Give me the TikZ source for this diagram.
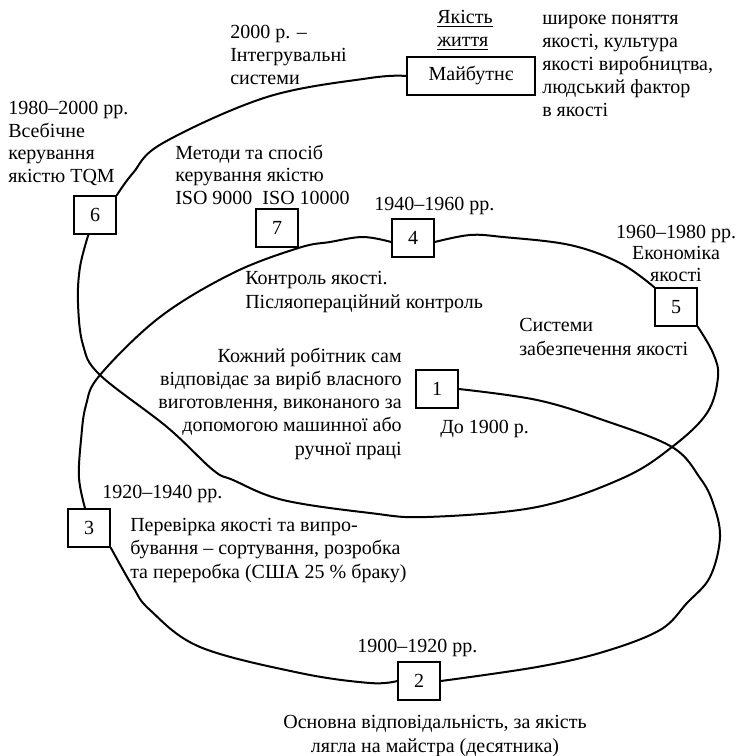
\documentclass[tikz,border=0pt]{standalone}
\usepackage{fontspec}
\setmainfont{Liberation Serif}

\begin{document}
\begin{tikzpicture}[x=0.75pt,y=0.75pt,yscale=-1,xscale=1,
  box/.style={draw, line width=1.3pt, minimum width=31.5pt, minimum height=28.5pt, inner sep=0pt, font=\fontsize{15}{17.4}\selectfont},
  txt/.style={inner sep=0pt, font=\fontsize{15}{17.4}\selectfont},
  coil/.style={line width=1.5pt, line join=round, line cap=round}]
\useasboundingbox (0,0) rectangle (737,756);

%Boxes
\draw (437,389) node (b1) [box] {1};
\draw (419,681) node (b2) [box] {2};
\draw (89,528) node (b3) [box] {3};
\draw (413,238) node (b4) [box] {4};
\draw (676,307) node (b5) [box] {5};
\draw (95,215) node (b6) [box] {6};
\draw (277,228) node (b7) [box] {7};
\draw (471,76) node (bfut) [box, minimum width=96pt, minimum height=28pt] {Майбутнє};

%Spiral 1 -> 2
\draw [coil] plot [smooth, tension=0.6] coordinates {(b1.east) (537,400) (603,420) (672,447) (700,478) (713,503) (720,537) (710,577) (687,603) (660,630) (603,652) (537,667) (b2.east)};
%Spiral 2 -> 3
\draw [coil] plot [smooth, tension=0.6] coordinates {(b2.west) (370,683) (300,673) (200,647) (150,610) (133,587) (b3.south east)};
%Spiral 3 -> 4
\draw [coil] plot [smooth, tension=0.6] coordinates {([xshift=-3pt]b3.north) (79,478) (81,440) (86,405) (100,375) (160,317) (233,273) (b7.south east) (330,242) (363,237) ([yshift=3pt]b4.west)};
%Spiral 4 -> 5
\draw [coil] plot [smooth, tension=0.6] coordinates {([yshift=3pt]b4.east) (470,235) (503,237) (570,245) (620,263) (b5.north west)};
%Spiral 5 -> 6
\draw [coil] plot [smooth, tension=0.6] coordinates {(b5.south east) (713,353) (718,377) (707,413) (672,447) (623,478) (537,507) (427,517) (370,513) (283,500) (233,480) (213,470) (167,427) (100,375) (83,345) (78,303) (80,267) ([xshift=-5pt]b6.south)};
%Spiral 6 -> future
\draw [coil] plot [smooth, tension=0.6] coordinates {(b6.north east) (133,173) (163,143) (267,97) (370,78) (bfut.west)};

% Text Node (anchor = baseline of the last line)
\draw (230,85) node (tInteg) [txt, anchor=base west, align=left] {2000 р. –\\Інтегрувальні\\системи};
% Text Node
\draw (437,47) node (tLife) [txt, anchor=base west, align=left] {\underline{Якість}\\\underline{життя}};
% Text Node
\draw (542,117) node (tWide) [txt, anchor=base west, align=left] {широке поняття\\якості, культура\\якості виробництва,\\людський фактор\\в якості};
% Text Node
\draw (8,182) node (tTQM) [txt, anchor=base west, align=left, font=\fontsize{15}{16.8}\selectfont] {1980–2000 рр.\\Всебічне\\керування\\якістю TQM};
% Text Node
\draw (175,204) node (tISO) [txt, anchor=base west, align=left, font=\fontsize{15}{16.8}\selectfont] {Методи та спосіб\\керування якістю\\ISO 9000~~ISO 10000};
% Text Node
\draw (374,210) node (t1940) [txt, anchor=base west] {1940–1960 рр.};
% Text Node
\draw (676,281) node (t1960) [txt, anchor=base, align=center, font=\fontsize{15}{15.8}\selectfont] {1960–1980 рр.\\Економіка\\якості};
% Text Node
\draw (245,308) node (tControl) [txt, anchor=base west, align=left] {Контроль якості.\\Післяопераційний контроль};
% Text Node
\draw (519,355) node (tSystems) [txt, anchor=base west, align=left] {Системи\\забезпечення якості};
% Text Node
\draw (402,455) node (tWorker) [txt, anchor=base east, align=right] {Кожний робітник сам\\відповідає за виріб власного\\виготовлення, виконаного за\\допомогою машинної або\\ручної праці};
% Text Node
\draw (440,433) node (t1900) [txt, anchor=base west] {До 1900 р.};
% Text Node
\draw (102,498) node (t1920) [txt, anchor=base west] {1920–1940 рр.};
% Text Node
\draw (130,578) node (tCheck) [txt, anchor=base west, align=left] {Перевірка якості та випро-\\бування – сортування, розробка\\та переробка (США 25~\% браку)};
% Text Node
\draw (357,652) node (t1910) [txt, anchor=base west] {1900–1920 рр.};
% Text Node
\draw (435,752) node (tMaster) [txt, anchor=base, align=center] {Основна відповідальність, за якість\\лягла на майстра (десятника)};

\end{tikzpicture}
\end{document}
